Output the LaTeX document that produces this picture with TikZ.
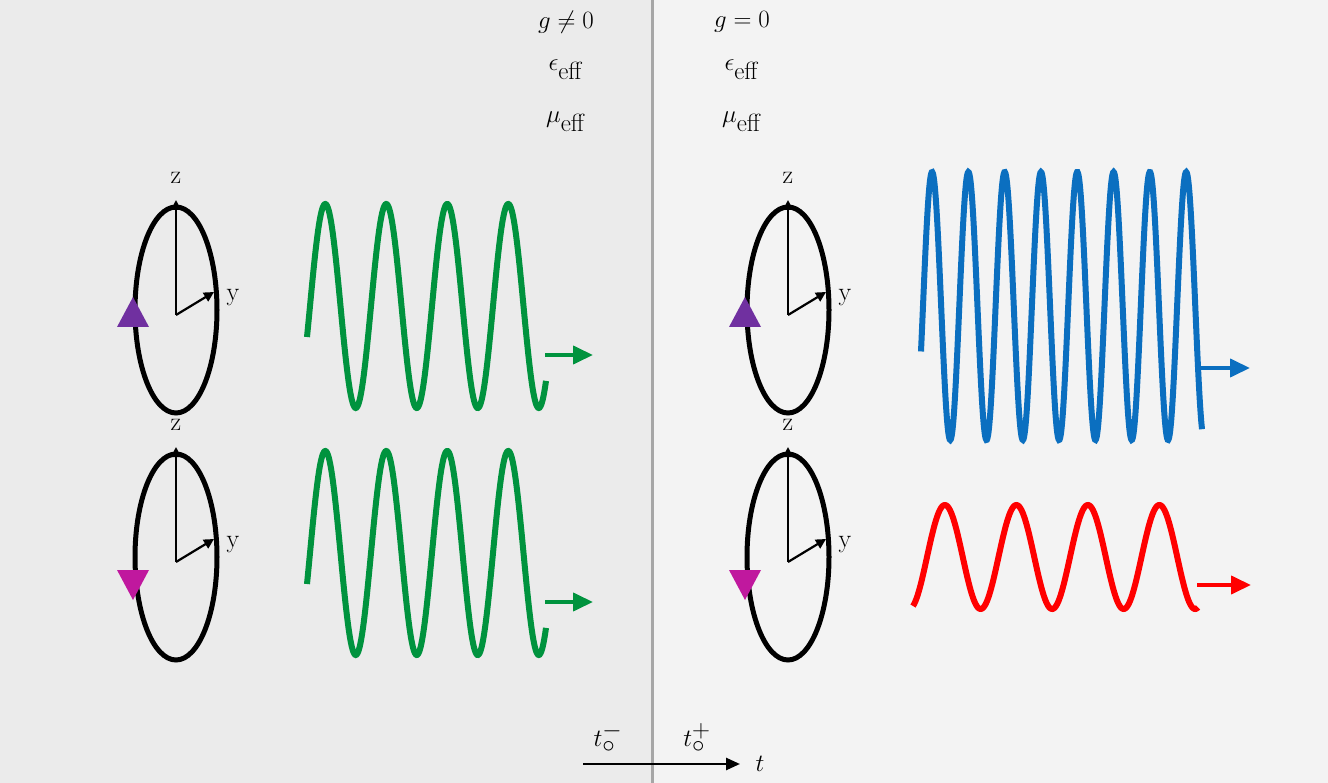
\documentclass[tikz,border=0pt]{standalone}
\usetikzlibrary{arrows.meta}
\definecolor{wgreen}{HTML}{00933E}
\definecolor{wblue}{HTML}{0B6FC0}
\definecolor{wred}{HTML}{FF0000}
\definecolor{tpurple}{HTML}{7030A0}
\definecolor{tmag}{HTML}{C0189E}
\definecolor{bgl}{HTML}{EBEBEB}
\definecolor{bgr}{HTML}{F3F3F3}
\begin{document}
\begin{tikzpicture}[x=1pt,y=-1pt,
  ring/.style={draw=black,line width=5pt},
  axis/.style={draw=black,line width=2.2pt,-{Triangle[length=10pt,width=10pt]}},
  lbl/.style={font=\fontsize{26}{26}\selectfont,inner sep=0pt},
  big/.style={font=\fontsize{38}{38}\selectfont,inner sep=0pt},
  wave/.style={line width=6pt},
  tipa/.style={line width=4pt,-{Triangle[length=20pt,width=18pt]}}]
\useasboundingbox (0,0) rectangle (1328,783);
\fill[bgl] (0,0) rectangle (652,783);
\fill[bgr] (652,0) rectangle (1328,783);
\draw[gray!70,line width=3pt] (652,0) -- (652,783);
% labels
\node[big] (g1) at (566,22) {$g\neq0$};
\node[big] (e1) at (566,70) {$\epsilon_{\mathrm{eff}}$};
\node[big] (m1) at (566,122) {$\mu_{\mathrm{eff}}$};
\node[big] (g2) at (742,22) {$g=0$};
\node[big] (e2) at (742,70) {$\epsilon_{\mathrm{eff}}$};
\node[big] (m2) at (742,122) {$\mu_{\mathrm{eff}}$};
% rings
\foreach \cx/\cy/\nm in {176/310/a,176/557/b,788/310/c,788/557/d}{
  \draw[ring] (\cx,\cy) ellipse [x radius=41,y radius=103];
  \coordinate (o\nm) at (\cx,\cy+5);
  \coordinate (zt\nm) at (\cx,\cy-110);
  \coordinate (yt\nm) at (\cx+38,\cy-18);
  \draw[axis] (o\nm) -- (zt\nm);
  \draw[axis] (o\nm) -- (yt\nm);
  \node[lbl] (z\nm) at (\cx,\cy-132) {z};
  \node[lbl] (y\nm) at (\cx+57,\cy-12) {y};
}
\fill[tpurple] (117,327) -- (149,327) -- (133,297) -- cycle;
\fill[tpurple] (729,327) -- (761,327) -- (745,297) -- cycle;
\fill[tmag] (117,570) -- (149,570) -- (133,600) -- cycle;
\fill[tmag] (729,570) -- (761,570) -- (745,600) -- cycle;
% green waves
\foreach \dy/\nm in {0/p,247/q}{
  \draw[wgreen,wave] plot[domain=307:546,samples=300,smooth] (\x,{306+\dy-102*sin((\x-310)*5.9016)});
  \coordinate (s\nm) at (545,355+\dy);
  \coordinate (e\nm) at (593,355+\dy);
  \draw[wgreen,tipa] (s\nm) -- (e\nm);
}
% blue wave
\draw[wblue,wave] plot[domain=921:1202,samples=500,smooth] (\x,{306-134*sin((\x-923)*9.917)});
\coordinate (sb) at (1200,368);
\coordinate (eb) at (1250,368);
\draw[wblue,tipa] (sb) -- (eb);
% red wave
\draw[wred,wave] plot[domain=913:1198,samples=400,smooth] (\x,{557-52*sin((\x-927)*5.035)});
\coordinate (sr) at (1197,585);
\coordinate (er) at (1251,585);
\draw[wred,tipa] (sr) -- (er);
% time axis
\node[big] (tm) at (608,738) {$t_\circ^{-}$};
\node[big] (tp) at (697,738) {$t_\circ^{+}$};
\coordinate (ta) at (583,764);
\coordinate (tb) at (740,764);
\draw[line width=2.5pt,-{Triangle[length=14pt,width=12pt]}] (ta) -- (tb);
\node[big] (tt) at (760,764) {$t$};
\end{tikzpicture}
\end{document}
